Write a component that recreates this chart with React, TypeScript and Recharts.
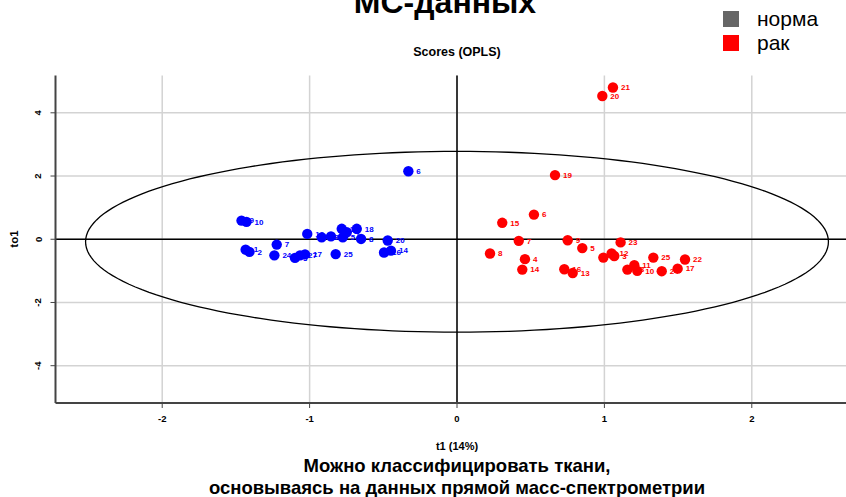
import * as React from 'react';
import { ScatterChart, Scatter, XAxis, YAxis, CartesianGrid, ReferenceLine } from 'recharts';

const FONT = '"Liberation Sans", Arial, sans-serif';

// норма (blue) scores
const normaLabels = ['1', '2', '3', '4', '5', '6', '7', '8', '9', '10', '11', '12', '13', '14', '15', '16', '17', '18', '20', '24', '25', '27'];
const normaT1 = [-1.434, -1.408, -1.099, -0.748, -0.775, -0.33, -1.223, -0.651, -1.462, -1.428, -0.782, -1.016, -0.918, -0.448, -0.855, -0.495, -1.031, -0.68, -0.47, -1.239, -0.823, -1.065];
const normaTo1 = [-0.33, -0.4, -0.59, 0.22, 0.06, 2.15, -0.17, 0.01, 0.59, 0.55, 0.33, 0.17, 0.06, -0.36, 0.09, -0.42, -0.48, 0.33, -0.04, -0.51, -0.47, -0.51];

// рак (red) scores
const rakLabels = ['15', '6', '7', '9', '5', '8', '4', '14', '16', '13', '23', '1', '12', '3', '25', '22', '11', '18', '10', '24', '17', '19', '20', '21'];
const rakT1 = [0.307, 0.522, 0.419, 0.751, 0.85, 0.224, 0.461, 0.443, 0.728, 0.785, 1.11, 0.993, 1.049, 1.067, 1.332, 1.547, 1.203, 1.156, 1.223, 1.389, 1.497, 0.665, 0.986, 1.058];
const rakTo1 = [0.52, 0.78, -0.05, -0.03, -0.28, -0.45, -0.63, -0.96, -0.95, -1.07, -0.1, -0.58, -0.45, -0.53, -0.58, -0.64, -0.82, -0.96, -1.0, -1.01, -0.93, 2.03, 4.53, 4.8];

// Hotelling T2 ellipse
const ELLIPSE_CX = 0;
const ELLIPSE_CY = -0.08;
const ELLIPSE_RX = 2.52;
const ELLIPSE_RY = 2.86;

const xTicks = [-2, -1, 0, 1, 2];
const yTicks = [-4, -2, 0, 2, 4];

const NORMA_COLOR = '#0000ff';
const RAK_COLOR = '#ff0000';

const normaData = normaLabels.map((label, i) => ({ label, t1: normaT1[i], to1: normaTo1[i] }));
const rakData = rakLabels.map((label, i) => ({ label, t1: rakT1[i], to1: rakTo1[i] }));
const ellipseData = Array.from({ length: 181 }, (_, i) => {
  const a = (i / 180) * 2 * Math.PI;
  return { t1: ELLIPSE_CX + ELLIPSE_RX * Math.cos(a), to1: ELLIPSE_CY + ELLIPSE_RY * Math.sin(a) };
});

const makePoint = (color: string) => (props: any) => {
  const { cx, cy, payload } = props;
  return (
    <g>
      <circle cx={cx} cy={cy} r={5.2} fill={color} />
      <text
        x={cx + 8}
        y={cy}
        dy="0.35em"
        fontSize={8}
        fontWeight="bold"
        fontFamily={FONT}
        fill={color}
      >
        {payload.label}
      </text>
    </g>
  );
};

const YTick = (props: any) => {
  const { x, y, payload } = props;
  const px = x - 7;
  return (
    <text
      x={px}
      y={y}
      transform={`rotate(-90 ${px} ${y})`}
      textAnchor="middle"
      fontSize={9.5}
      fontWeight="bold"
      fontFamily={FONT}
      fill="#000"
    >
      {payload.value}
    </text>
  );
};

export default function App() {
  return (
    <div
      style={{
        position: 'fixed',
        left: 0,
        top: 0,
        width: 846,
        height: 497,
        overflow: 'hidden',
        background: '#fff',
      }}
    >
      <ScatterChart
        width={900}
        height={497}
        margin={{ top: 75.5, right: 41.5, left: 0, bottom: 0 }}
        style={{ position: 'absolute', left: 0, top: 0 }}
      >
        <CartesianGrid
          stroke="#d3d3d3"
          strokeWidth={1.5}
          horizontalValues={yTicks}
          verticalValues={xTicks}
        />
        <XAxis
          type="number"
          dataKey="t1"
          domain={[-2.724, 2.724]}
          ticks={xTicks}
          allowDataOverflow
          height={94}
          tickSize={5}
          tickMargin={7}
          axisLine={{ stroke: '#444', strokeWidth: 2 }}
          tickLine={{ stroke: '#444' }}
          tick={{ fontSize: 9.5, fontWeight: 'bold', fill: '#000', fontFamily: FONT }}
        />
        <XAxis
          xAxisId="top"
          orientation="top"
          type="number"
          dataKey="t1"
          domain={[-2.724, 2.724]}
          height={0}
          tick={false}
          tickLine={false}
          axisLine={{ stroke: '#555', strokeWidth: 2 }}
        />
        <YAxis
          type="number"
          dataKey="to1"
          domain={[-5.18, 5.18]}
          ticks={yTicks}
          allowDataOverflow
          width={55.5}
          tickSize={5}
          axisLine={{ stroke: '#444', strokeWidth: 2 }}
          tickLine={{ stroke: '#444' }}
          tick={<YTick />}
        />
        <ReferenceLine x={0} stroke="#000" strokeWidth={1.5} />
        <ReferenceLine y={0} stroke="#000" strokeWidth={1.5} />
        <Scatter
          data={ellipseData}
          line={{ stroke: '#000', strokeWidth: 1.3 }}
          shape={() => <g />}
          isAnimationActive={false}
        />
        <Scatter data={normaData} shape={makePoint(NORMA_COLOR)} isAnimationActive={false} />
        <Scatter data={rakData} shape={makePoint(RAK_COLOR)} isAnimationActive={false} />
      </ScatterChart>

      <svg
        width={846}
        height={497}
        style={{ position: 'absolute', left: 0, top: 0, pointerEvents: 'none' }}
        fontFamily={FONT}
      >
        <text x={445} y={13} textAnchor="middle" fontSize={32} fontWeight="bold">
          МС-данных
        </text>
        <text x={457} y={56} textAnchor="middle" fontSize={12.5} fontWeight="bold">
          Scores (OPLS)
        </text>

        <rect x={723} y={11} width={16} height={16} fill="#666" />
        <text x={757} y={26} fontSize={21}>
          норма
        </text>
        <rect x={723} y={35} width={16} height={16} fill={RAK_COLOR} />
        <text x={757} y={50} fontSize={21}>
          рак
        </text>

        <text
          x={18}
          y={239}
          transform="rotate(-90 18 239)"
          textAnchor="middle"
          fontSize={11.5}
          fontWeight="bold"
        >
          to1
        </text>
        <text x={457} y={450} textAnchor="middle" fontSize={11} fontWeight="bold">
          t1 (14%)
        </text>
        <text x={457} y={472} textAnchor="middle" fontSize={18.5} fontWeight="bold">
          Можно классифицировать ткани,
        </text>
        <text x={457} y={494} textAnchor="middle" fontSize={18.5} fontWeight="bold">
          основываясь на данных прямой масс-спектрометрии
        </text>
      </svg>
    </div>
  );
}
